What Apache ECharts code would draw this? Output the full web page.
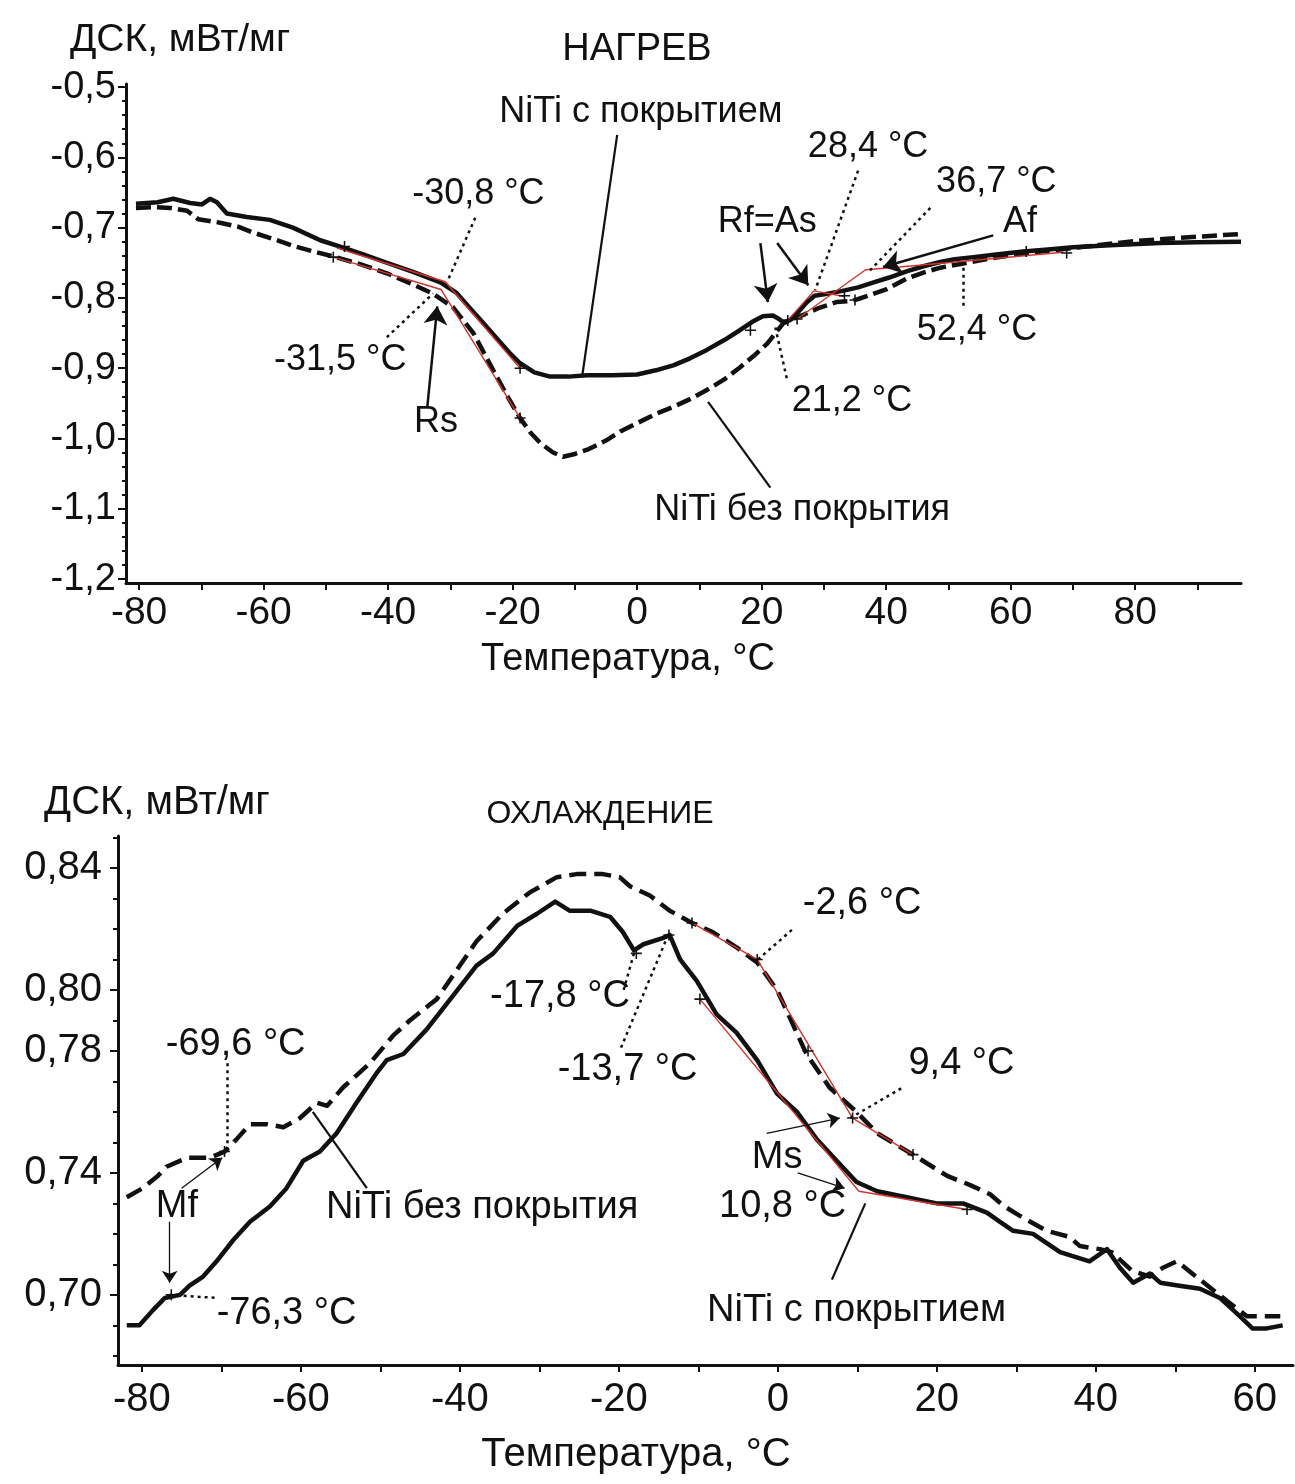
<!DOCTYPE html>
<html>
<head>
<meta charset="utf-8">
<script src="https://cdn.jsdelivr.net/npm/echarts@6/dist/echarts.min.js"></script>
<style>
html, body { margin: 0; background: #fff; }
#chart { width: 1295px; height: 1484px; }
</style>
</head>
<body>
<div id="chart"></div>
<script>
// ДСК: нагрев (верх) и охлаждение (низ)
const FONT = '"Liberation Sans", Arial, sans-serif';
const INK = '#111111';
const RED = '#d0342c';

// ---------- НАГРЕВ ----------
const heatCoatedT = [-80.5, -77.0, -74.5, -71.8, -69.9, -68.6, -67.5, -65.9, -62.7, -59.0, -55.3, -50.9, -47.7, -44.0, -40.2, -36.0, -31.6, -29.0, -26.8, -24.5, -22.5, -20.5, -18.8, -16.5, -14.0, -11.0, -8.0, -4.0, 0.0, 3.0, 5.8, 8.5, 11.2, 14.0, 16.5, 18.5, 20.2, 21.8, 22.8, 23.5, 24.5, 25.7, 27.3, 28.5, 30.0, 33.0, 35.5, 38.0, 40.5, 43.4, 46.0, 48.7, 51.0, 54.0, 58.0, 62.0, 66.0, 70.0, 76.0, 84.0, 90.0, 97.0];
const heatCoatedDsc = [-0.666, -0.664, -0.659, -0.665, -0.667, -0.659, -0.664, -0.680, -0.685, -0.689, -0.700, -0.718, -0.727, -0.738, -0.750, -0.763, -0.778, -0.793, -0.815, -0.838, -0.858, -0.878, -0.893, -0.906, -0.912, -0.912, -0.910, -0.910, -0.909, -0.903, -0.896, -0.886, -0.874, -0.860, -0.846, -0.834, -0.826, -0.825, -0.830, -0.835, -0.832, -0.822, -0.806, -0.797, -0.795, -0.790, -0.785, -0.778, -0.771, -0.762, -0.755, -0.749, -0.745, -0.742, -0.738, -0.734, -0.731, -0.728, -0.725, -0.722, -0.721, -0.720];

const heatBareT = [-80.5, -77.5, -75.0, -72.3, -70.5, -67.0, -64.0, -61.7, -58.5, -55.3, -52.0, -48.8, -44.5, -40.2, -36.5, -32.8, -29.6, -26.3, -24.5, -22.5, -20.5, -18.8, -17.0, -15.6, -13.5, -11.9, -10.0, -8.0, -5.0, -2.7, 0.5, 3.0, 5.8, 8.5, 11.2, 14.0, 16.5, 18.8, 20.9, 22.5, 23.5, 25.0, 27.0, 29.0, 32.0, 34.7, 37.0, 40.0, 43.4, 46.0, 48.7, 52.4, 56.0, 62.0, 70.0, 80.0, 90.0, 97.0];
const heatBareDsc = [-0.672, -0.671, -0.672, -0.676, -0.688, -0.693, -0.699, -0.707, -0.716, -0.726, -0.734, -0.741, -0.752, -0.765, -0.779, -0.794, -0.813, -0.850, -0.880, -0.913, -0.945, -0.971, -0.993, -1.006, -1.020, -1.026, -1.022, -1.016, -1.003, -0.990, -0.976, -0.965, -0.955, -0.944, -0.931, -0.916, -0.899, -0.882, -0.865, -0.847, -0.836, -0.830, -0.823, -0.815, -0.806, -0.804, -0.797, -0.788, -0.772, -0.764, -0.757, -0.751, -0.745, -0.737, -0.729, -0.719, -0.713, -0.709];

const heatTangents = [
  [[-48.2, -0.729], [-30.8, -0.777], [-18.8, -0.900]],
  [[-48.8, -0.742], [-31.5, -0.788], [-18.8, -0.971]],
  [[24.2, -0.832], [28.4, -0.790], [33.3, -0.798]],
  [[25.7, -0.830], [36.7, -0.760], [42.2, -0.756], [68.4, -0.735]]
];
const heatCrosses = [[-48.8, -0.742], [-47.0, -0.727], [-18.8, -0.900], [-18.8, -0.971], [18.2, -0.846], [24.2, -0.832], [25.7, -0.830], [33.3, -0.797], [35.0, -0.803], [62.5, -0.734], [69.0, -0.736]];

const heatNotes = [
  ['NiTi с покрытием', 0.6, -0.535],
  ['-30,8 °C', -25.5, -0.652],
  ['-31,5 °C', -47.7, -0.888],
  ['Rs', -32.3, -0.977],
  ['Rf=As', 20.9, -0.692],
  ['28,4 °C', 37.1, -0.585],
  ['36,7 °C', 57.7, -0.635],
  ['Af', 61.5, -0.692],
  ['52,4 °C', 54.6, -0.846],
  ['21,2 °C', 34.5, -0.947],
  ['NiTi без покрытия', 26.5, -1.102]
];
const heatDotted = [
  [[-26.0, -0.686], [-30.4, -0.775]],
  [[-40.2, -0.856], [-32.8, -0.794]],
  [[35.5, -0.619], [28.6, -0.789]],
  [[47.1, -0.672], [37.4, -0.761]],
  [[52.4, -0.757], [52.4, -0.811]],
  [[22.2, -0.842], [24.1, -0.917]]
];
const heatLeaders = [
  [[-3.2, -0.568], [-8.8, -0.910]],
  [[11.4, -0.948], [21.4, -1.070]]
];
const heatArrows = [
  [[-33.7, -0.955], [-32.1, -0.812]],
  [[19.8, -0.722], [21.0, -0.806]],
  [[22.5, -0.722], [27.5, -0.782]],
  [[57.2, -0.711], [39.5, -0.756]]
];
const heatTempTicks = [-80, -60, -40, -20, 0, 20, 40, 60, 80];
const heatDscTicks = [-1.2, -1.1, -1.0, -0.9, -0.8, -0.7, -0.6, -0.5];

// ---------- ОХЛАЖДЕНИЕ ----------
const coolBareT = [-81.9, -79.9, -78.0, -76.9, -74.3, -71.4, -69.6, -68.1, -66.4, -64.3, -62.2, -60.1, -58.0, -56.7, -54.7, -51.3, -48.4, -46.3, -42.9, -40.0, -37.9, -34.6, -31.2, -27.8, -25.3, -22.0, -19.9, -18.6, -16.1, -13.6, -10.8, -8.2, -5.2, -2.6, -0.1, 3.6, 6.5, 9.9, 12.5, 17.0, 21.3, 24.2, 26.7, 28.5, 30.4, 33.8, 36.7, 38.0, 40.5, 42.0, 44.5, 46.8, 48.5, 50.2, 53.1, 56.5, 59.0, 60.6, 63.2];
const coolBareDsc = [0.732, 0.735, 0.739, 0.742, 0.745, 0.745, 0.747, 0.751, 0.756, 0.756, 0.755, 0.758, 0.763, 0.762, 0.768, 0.776, 0.785, 0.790, 0.797, 0.808, 0.816, 0.825, 0.832, 0.837, 0.838, 0.838, 0.837, 0.834, 0.831, 0.826, 0.822, 0.819, 0.814, 0.809, 0.800, 0.779, 0.768, 0.760, 0.753, 0.746, 0.739, 0.736, 0.733, 0.729, 0.726, 0.721, 0.719, 0.716, 0.715, 0.714, 0.708, 0.706, 0.709, 0.711, 0.705, 0.698, 0.693, 0.693, 0.693];

const coolCoatedT = [-81.9, -80.3, -78.6, -77.1, -75.2, -74.0, -72.3, -70.6, -68.5, -66.4, -63.9, -61.8, -59.7, -57.6, -55.5, -53.0, -50.4, -49.2, -47.1, -44.2, -40.9, -37.9, -35.8, -32.8, -30.3, -28.0, -26.2, -23.6, -21.1, -19.5, -18.1, -16.9, -14.5, -13.6, -12.3, -10.2, -7.7, -5.2, -2.6, -0.1, 2.4, 4.9, 7.4, 9.9, 12.5, 16.2, 20.0, 23.3, 26.3, 27.9, 29.6, 32.1, 35.5, 39.2, 41.4, 43.0, 44.7, 46.8, 48.1, 50.5, 53.1, 55.6, 58.1, 59.7, 61.5, 63.5];
const coolCoatedDsc = [0.690, 0.690, 0.695, 0.699, 0.700, 0.703, 0.706, 0.711, 0.718, 0.724, 0.729, 0.735, 0.744, 0.747, 0.753, 0.763, 0.773, 0.777, 0.779, 0.787, 0.798, 0.808, 0.812, 0.821, 0.825, 0.829, 0.826, 0.826, 0.824, 0.819, 0.813, 0.815, 0.817, 0.818, 0.810, 0.803, 0.792, 0.786, 0.777, 0.766, 0.760, 0.751, 0.744, 0.737, 0.734, 0.732, 0.730, 0.730, 0.727, 0.724, 0.721, 0.720, 0.714, 0.711, 0.715, 0.709, 0.704, 0.707, 0.704, 0.703, 0.702, 0.699, 0.693, 0.689, 0.689, 0.690];

const coolTangents = [
  [[-10.8, 0.822], [-2.6, 0.810], [9.4, 0.758], [17.0, 0.746]],
  [[-9.8, 0.797], [10.2, 0.734], [23.8, 0.728]]
];
const coolCrosses = [[-10.8, 0.822], [-2.6, 0.810], [3.8, 0.780], [9.4, 0.758], [17.0, 0.746], [-9.8, 0.797], [23.8, 0.728], [-13.7, 0.818], [-17.8, 0.812], [-76.3, 0.700], [-69.6, 0.747]];

const coolNotes = [
  ['-69,6 °C', -68.2, 0.782],
  ['Mf', -75.6, 0.729],
  ['-76,3 °C', -61.8, 0.694],
  ['NiTi без покрытия', -37.2, 0.7285],
  ['-17,8 °C', -27.4, 0.798],
  ['-13,7 °C', -18.9, 0.774],
  ['-2,6 °C', 10.6, 0.8285],
  ['9,4 °C', 23.1, 0.776],
  ['Ms', -0.1, 0.745],
  ['10,8 °C', 0.6, 0.729],
  ['NiTi с покрытием', 9.9, 0.695]
];
const coolDotted = [
  [[-69.3, 0.776], [-69.3, 0.747]],
  [[-76.5, 0.700], [-70.6, 0.699]],
  [[-18.1, 0.812], [-19.4, 0.800]],
  [[-13.8, 0.818], [-19.9, 0.780]],
  [[-2.5, 0.810], [1.9, 0.820]],
  [[9.1, 0.758], [15.7, 0.768]]
];
const coolLeaders = [
  [[-58.5, 0.760], [-51.7, 0.735]],
  [[11.0, 0.730], [6.8, 0.705]]
];
const coolArrows = [
  [[-75.0, 0.735], [-69.9, 0.745]],
  [[-76.5, 0.724], [-76.5, 0.704]],
  [[-1.4, 0.753], [7.8, 0.758]],
  [[2.5, 0.740], [8.4, 0.735]]
];
const coolTempTicks = [-80, -60, -40, -20, 0, 20, 40, 60];
const coolDscTicks = [0.70, 0.74, 0.78, 0.80, 0.84];

// ---------- helpers ----------
const zip = (xs, ys) => xs.map((x, i) => [x, ys[i]]);
const steps = (from, to, step) => {
  const out = [];
  for (let v = Math.round(from / step); v <= Math.round(to / step); v++) out.push(+(v * step).toFixed(4));
  return out;
};

function curve(pts, xi, yi, dash) {
  return {
    type: 'line', data: pts, xAxisIndex: xi, yAxisIndex: yi,
    showSymbol: false, smooth: false, silent: true, z: 3,
    lineStyle: { color: INK, width: 4.5, type: dash || 'solid', cap: 'butt', join: 'round' }
  };
}
function tangent(pts, xi, yi) {
  return {
    type: 'line', data: pts, xAxisIndex: xi, yAxisIndex: yi,
    showSymbol: false, silent: true, z: 4,
    lineStyle: { color: RED, width: 1.4 }
  };
}
function segs(list, xi, yi, style, arrowSize) {
  return {
    type: 'lines', coordinateSystem: 'cartesian2d', xAxisIndex: xi, yAxisIndex: yi,
    polyline: false, silent: true, z: 5,
    symbol: arrowSize ? ['none', 'arrow'] : ['none', 'none'],
    symbolSize: arrowSize || 0,
    lineStyle: Object.assign({ color: INK, opacity: 1, curveness: 0 }, style),
    data: list.map(c => ({ coords: c }))
  };
}
function crosses(pts, xi, yi) {
  return {
    type: 'scatter', data: pts, xAxisIndex: xi, yAxisIndex: yi, silent: true, z: 6,
    symbol: 'path://M4.3,0H5.7V10H4.3Z M0,4.3H10V5.7H0Z', symbolSize: 11,
    itemStyle: { color: INK, opacity: 1 }
  };
}
function notes(list, xi, yi, size) {
  return {
    type: 'scatter', xAxisIndex: xi, yAxisIndex: yi, silent: true, z: 7,
    symbolSize: 0,
    itemStyle: { color: INK, opacity: 1 },
    data: list.map(n => ({ name: n[0], value: [n[1], n[2]] })),
    label: {
      show: true, position: 'inside', formatter: '{b}',
      fontFamily: FONT, fontSize: size, color: INK, opacity: 1,
      textBorderWidth: 0, textBorderColor: 'transparent'
    }
  };
}
function xAxisFor(grid, min, max, labels, fmt, size, margin) {
  return {
    type: 'value', gridIndex: grid, min, max,
    axisLine: { onZero: false, lineStyle: { color: INK, width: 3 } },
    axisTick: { customValues: steps(labels[0], labels[labels.length - 1] + 10, 10).filter(v => v <= max), length: 7, lineStyle: { color: INK, width: 2 } },
    axisLabel: { customValues: labels, formatter: fmt, fontFamily: FONT, fontSize: size, color: INK, margin },
    splitLine: { show: false }
  };
}
function minorAxis(grid, min, max, ticks, len) {
  return {
    type: 'value', gridIndex: grid, min, max, position: 'left',
    axisLine: { show: false, onZero: false },
    axisTick: { customValues: ticks, length: len, lineStyle: { color: INK, width: 2 } },
    axisLabel: { show: false },
    splitLine: { show: false }
  };
}

const fmtT = v => String(Math.round(v));
const fmtHeat = v => v.toFixed(1).replace('.', ',');
const fmtCool = v => v.toFixed(2).replace('.', ',');

const heatMin = -1.2056, heatMax = -0.4957;
const coolMin = 0.677, coolMax = 0.8505;

function title(text, x, y, size) {
  return { type: 'text', x, y, style: { text, fontFamily: FONT, fontSize: size, fill: INK, align: 'center', verticalAlign: 'middle' } };
}

const option = {
  animation: false,
  backgroundColor: '#fff',
  grid: [
    { left: 126, right: 54, top: 84, height: 499 },
    { left: 118, right: 2, top: 836, height: 529 }
  ],
  xAxis: [
    xAxisFor(0, -82.1, 97.0, heatTempTicks, fmtT, 39, 11),
    xAxisFor(1, -83.0, 64.8, coolTempTicks, fmtT, 40, 15)
  ],
  yAxis: [
    {
      type: 'value', gridIndex: 0, min: heatMin, max: heatMax, position: 'left',
      axisLine: { onZero: false, lineStyle: { color: INK, width: 3 } },
      axisTick: { customValues: heatDscTicks, length: 8, lineStyle: { color: INK, width: 2 } },
      axisLabel: { customValues: heatDscTicks, formatter: fmtHeat, fontFamily: FONT, fontSize: 38, color: INK, margin: 10 },
      splitLine: { show: false }
    },
    minorAxis(0, heatMin, heatMax, steps(-1.2, -0.5, 0.02), 4),
    {
      type: 'value', gridIndex: 1, min: coolMin, max: coolMax, position: 'left',
      axisLine: { onZero: false, lineStyle: { color: INK, width: 3 } },
      axisTick: { customValues: coolDscTicks, length: 8, lineStyle: { color: INK, width: 2 } },
      axisLabel: { customValues: coolDscTicks, formatter: fmtCool, fontFamily: FONT, fontSize: 40, color: INK, margin: 16 },
      splitLine: { show: false }
    },
    minorAxis(1, coolMin, coolMax, steps(0.68, 0.85, 0.01), 5)
  ],
  graphic: [
    title('ДСК, мВт/мг', 180, 40, 39),
    title('НАГРЕВ', 637, 50, 38),
    title('Температура, °C', 628, 660, 38),
    title('ДСК, мВт/мг', 157, 803, 40),
    title('ОХЛАЖДЕНИЕ', 600, 814, 32),
    title('Температура, °C', 636, 1455, 40)
  ],
  series: [
    // нагрев
    curve(zip(heatBareT, heatBareDsc), 0, 0, [15, 6]),
    curve(zip(heatCoatedT, heatCoatedDsc), 0, 0),
    ...heatTangents.map(p => tangent(p, 0, 0)),
    crosses(heatCrosses, 0, 0),
    segs(heatDotted, 0, 0, { width: 2.5, type: [3, 4] }),
    segs(heatLeaders, 0, 0, { width: 2.2 }),
    segs(heatArrows, 0, 0, { width: 2.5 }, 18),
    notes(heatNotes, 0, 0, 36),
    // охлаждение
    curve(zip(coolBareT, coolBareDsc), 1, 2, [17, 8]),
    curve(zip(coolCoatedT, coolCoatedDsc), 1, 2),
    ...coolTangents.map(p => tangent(p, 1, 2)),
    crosses(coolCrosses, 1, 2),
    segs(coolDotted, 1, 2, { width: 2.5, type: [3, 4] }),
    segs(coolLeaders, 1, 2, { width: 2.2 }),
    segs(coolArrows, 1, 2, { width: 1.3 }, 12),
    notes(coolNotes, 1, 2, 38)
  ]
};

const chart = echarts.init(document.getElementById('chart'), null, { renderer: 'canvas' });
chart.setOption(option);
window.addEventListener('resize', function () { chart && chart.resize(); });
</script>
</body>
</html>
